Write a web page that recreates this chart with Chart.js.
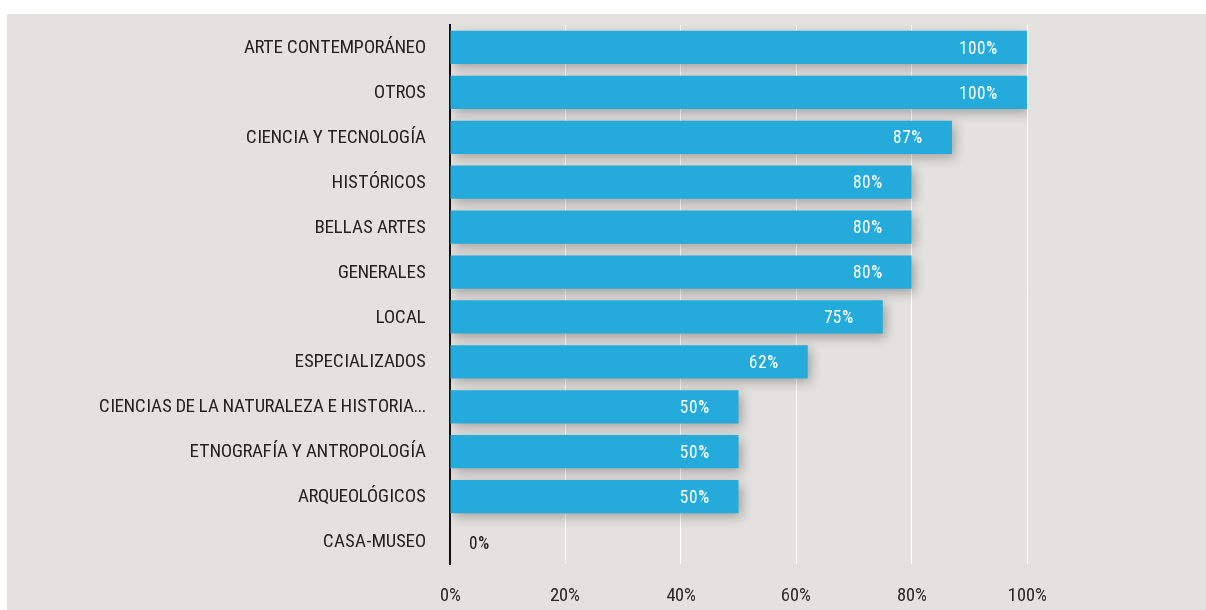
<!DOCTYPE html>
<html>
<head>
<meta charset="utf-8">
<script src="https://cdn.jsdelivr.net/npm/chart.js@4"></script>
<style>
  @font-face {
    font-family: 'Narrow';
    src: local('Roboto Condensed'), local('RobotoCondensed-Regular'), local('Roboto Condensed Regular'),
         local('Liberation Sans Narrow'), local('LiberationSansNarrow-Regular');
  }
  @font-face {
    font-family: 'Cond';
    src: local('DejaVu Sans Condensed'), local('DejaVuSansCondensed');
  }
  html, body { margin: 0; padding: 0; background: #fff; }
  #wrap { position: absolute; left: 0; top: 0; width: 1206px; height: 610px; }
</style>
</head>
<body>
<div id="wrap"><canvas id="barChart"></canvas></div>
<script>
const categories = [
  'ARTE CONTEMPORÁNEO',
  'OTROS',
  'CIENCIA Y TECNOLOGÍA',
  'HISTÓRICOS',
  'BELLAS ARTES',
  'GENERALES',
  'LOCAL',
  'ESPECIALIZADOS',
  'CIENCIAS DE LA NATURALEZA E HISTORIA...',
  'ETNOGRAFÍA Y ANTROPOLOGÍA',
  'ARQUEOLÓGICOS',
  'CASA-MUSEO'
];
const values = [100, 100, 87, 80, 80, 80, 75, 62, 50, 50, 50, 0];
const xTicks = [0, 20, 40, 60, 80, 100];

const FONT = 'Narrow, Cond, sans-serif';

// grey panel behind the plot
const panel = {
  id: 'panel',
  beforeDraw(chart) {
    const c = chart.ctx;
    c.save();
    c.fillStyle = '#e3e2de';
    c.fillRect(7, 14, chart.width - 7, chart.height - 14);
    c.restore();
  }
};

// soft drop shadow under the bars
const barShadow = {
  id: 'barShadow',
  beforeDatasetsDraw(chart) {
    const c = chart.ctx;
    c.save();
    c.shadowColor = 'rgba(0,0,0,0.3)';
    c.shadowBlur = 11;
    c.shadowOffsetX = 3;
    c.shadowOffsetY = 4;
  },
  afterDatasetsDraw(chart) {
    chart.ctx.restore();
  }
};

// percentage labels inside the bars
const valueLabels = {
  id: 'valueLabels',
  afterDatasetsDraw(chart) {
    const c = chart.ctx;
    const meta = chart.getDatasetMeta(0);
    c.save();
    c.font = '17.5px ' + FONT;
    c.textBaseline = 'middle';
    meta.data.forEach((bar, i) => {
      const v = values[i];
      if (v > 0) {
        c.fillStyle = '#ffffff';
        c.textAlign = 'right';
        c.fillText(v + '%', bar.x - 30, bar.y + 1);
      } else {
        c.fillStyle = '#222222';
        c.textAlign = 'left';
        c.fillText(v + '%', bar.x + 19, bar.y + 2);
      }
    });
    c.restore();
  }
};

function draw() {
  new Chart(document.getElementById('barChart'), {
    type: 'bar',
    data: {
      labels: categories,
      datasets: [{
        data: values,
        backgroundColor: '#24abdc',
        borderWidth: 0,
        barPercentage: 0.74,
        categoryPercentage: 1
      }]
    },
    options: {
      indexAxis: 'y',
      responsive: true,
      maintainAspectRatio: false,
      animation: false,
      layout: { padding: { top: 25, right: 179, left: 0, bottom: 0 } },
      plugins: {
        legend: { display: false },
        tooltip: { enabled: false }
      },
      scales: {
        x: {
          min: 0,
          max: 100,
          afterBuildTicks(scale) {
            scale.ticks = xTicks.map(v => ({ value: v }));
          },
          afterFit(scale) {
            scale.height = 46;
            scale.paddingLeft = 0;
            scale.paddingRight = 0;
          },
          grid: { color: '#ffffff', lineWidth: 1, drawTicks: false },
          border: { display: false },
          ticks: {
            padding: 20,
            color: '#2a2a2a',
            font: { family: FONT, size: 19 },
            callback: v => v + '%'
          }
        },
        y: {
          afterFit(scale) {
            scale.width = 450;
            scale.paddingTop = 0;
            scale.paddingBottom = 0;
          },
          grid: { display: false, drawTicks: false },
          border: { display: true, color: '#111111', width: 2 },
          ticks: {
            padding: 24,
            color: '#222222',
            font: { family: FONT, size: 19 }
          }
        }
      }
    },
    plugins: [panel, barShadow, valueLabels]
  });
}

Promise.all([
  document.fonts.load('18px Narrow'),
  document.fonts.load('18px Cond')
]).then(draw, draw);
</script>
</body>
</html>
